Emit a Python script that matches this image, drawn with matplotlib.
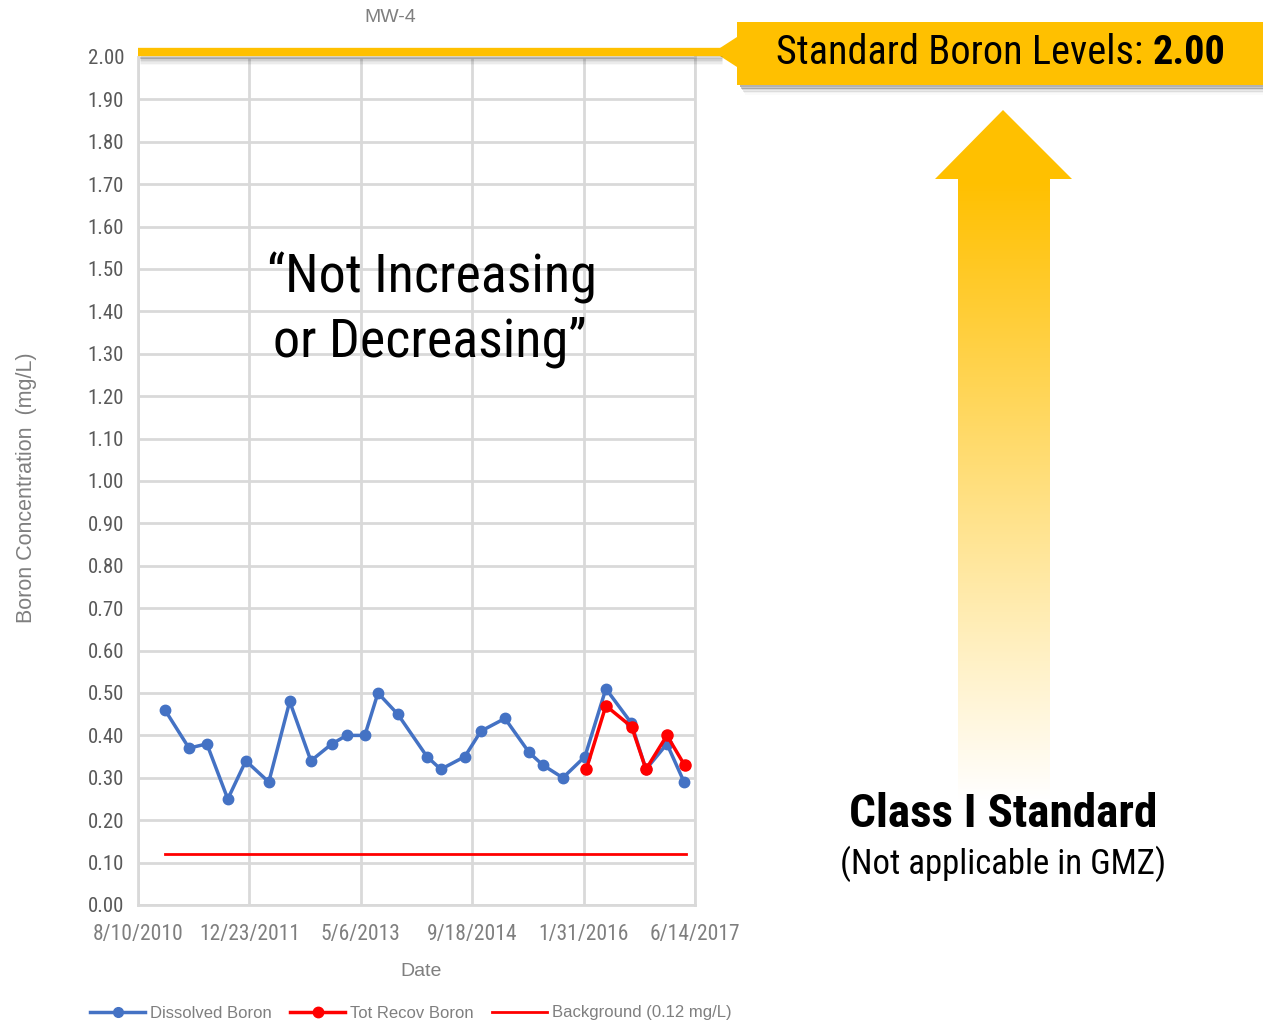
import numpy as np
import pandas as pd
import matplotlib
matplotlib.use("Agg")
import matplotlib.pyplot as plt
from matplotlib import font_manager
from matplotlib.patches import Polygon, Rectangle
from matplotlib.lines import Line2D


def pick_font(names):
    for n in names:
        try:
            font_manager.findfont(n, fallback_to_default=False)
            return n
        except Exception:
            pass
    return "DejaVu Sans"


NARROW = pick_font(["Liberation Sans Narrow", "Roboto Condensed", "Liberation Sans"])
PLAIN = pick_font(["Liberation Sans", "DejaVu Sans"])

# data
dissolved_dates = ["2010-12-09", "2011-03-27", "2011-06-15", "2011-09-17", "2011-12-07",
                   "2012-03-19", "2012-06-21", "2012-09-24", "2012-12-27", "2013-03-04",
                   "2013-05-24", "2013-07-22", "2013-10-19", "2014-02-27", "2014-04-30",
                   "2014-08-16", "2014-10-27", "2015-02-12", "2015-05-31", "2015-08-01",
                   "2015-10-30", "2016-02-06", "2016-05-10", "2016-08-31", "2016-11-06",
                   "2017-02-08", "2017-04-26"]
dissolved_boron = [0.46, 0.37, 0.38, 0.25, 0.34, 0.29, 0.48, 0.34, 0.38, 0.40,
                   0.40, 0.50, 0.45, 0.35, 0.32, 0.35, 0.41, 0.44, 0.36, 0.33,
                   0.30, 0.35, 0.51, 0.43, 0.32, 0.38, 0.29]

total_dates = ["2016-02-12", "2016-05-10", "2016-09-03", "2016-11-06", "2017-02-08", "2017-04-28"]
total_boron = [0.32, 0.47, 0.42, 0.32, 0.40, 0.33]

background_dates = ["2010-12-09", "2017-05-05"]
background_level = [0.12, 0.12]

standard_level = 2.00
x_start = "2010-08-10"
tick_step_days = 500
y_ticks = np.arange(0, 2.01, 0.10)

dissolved_dates = pd.to_datetime(dissolved_dates)
total_dates = pd.to_datetime(total_dates)
background_dates = pd.to_datetime(background_dates)
x_ticks = pd.date_range(x_start, periods=6, freq=f"{tick_step_days}D")

GRAY = "#7f7f7f"
GOLD = "#FFC000"
BLUE = "#4472C4"
RED = "#FF0000"

W, H = 1263, 1024
fig = plt.figure(figsize=(W / 100, H / 100), dpi=100)
fig.patch.set_facecolor("white")

ax = fig.add_axes([138 / W, 1 - 905 / H, (695 - 138) / W, (905 - 57) / H])
ax.plot(background_dates, background_level, color=RED, lw=2, zorder=3)
ax.plot(dissolved_dates, dissolved_boron, color=BLUE, lw=2.5, marker="o", ms=7.5, zorder=4)
ax.plot(total_dates, total_boron, color=RED, lw=2.5, marker="o", ms=8, zorder=5)

ax.set_xlim(x_ticks[0], x_ticks[-1])
ax.set_ylim(0, 2.0)
ax.set_yticks(y_ticks)
ax.set_yticklabels([f"{v:.2f}" for v in y_ticks])
ax.set_xticks(x_ticks)
ax.set_xticklabels([f"{d.month}/{d.day}/{d.year}" for d in x_ticks])
ax.grid(True, color="#d9d9d9", lw=2)
ax.set_axisbelow(True)
for s in ["left", "right", "bottom"]:
    ax.spines[s].set_color("#d9d9d9")
    ax.spines[s].set_linewidth(2)
ax.spines["top"].set_visible(False)
ax.tick_params(axis="y", length=0, colors="#595959", pad=10)
ax.tick_params(axis="x", length=0, colors=GRAY, pad=14)
for lab in ax.get_yticklabels():
    lab.set_fontfamily(NARROW)
    lab.set_fontsize(15)
for lab in ax.get_xticklabels():
    lab.set_fontfamily(NARROW)
    lab.set_fontsize(15.5)

fig.text(390 / W, 1 - 17 / H, "MW-4", ha="center", va="center", fontsize=14,
         family=PLAIN, color=GRAY)
fig.text(421 / W, 1 - 972 / H, "Date", ha="center", va="center", fontsize=14,
         family=PLAIN, color=GRAY)
fig.text(27 / W, 1 - 488 / H, "Boron Concentration  (mg/L)", ha="center", va="center",
         fontsize=15.5, family=PLAIN, color=GRAY, rotation=90)

handles = [Line2D([], [], color=BLUE, lw=2.5, marker="o", ms=7),
           Line2D([], [], color=RED, lw=2.5, marker="o", ms=7.5),
           Line2D([], [], color=RED, lw=2)]
leg = fig.legend(handles, ["Dissolved Boron", "Tot Recov Boron", "Background (0.12 mg/L)"],
                 loc="center", bbox_to_anchor=(411 / W, 1 - 1013 / H), ncol=3, frameon=False,
                 handlelength=3.3, columnspacing=1.1, handletextpad=0.3,
                 prop={"family": PLAIN, "size": 12})
for t in leg.get_texts():
    t.set_color(GRAY)

# overlay in pixel coordinates for the annotations
ov = fig.add_axes([0, 0, 1, 1], zorder=10)
ov.set_xlim(0, W)
ov.set_ylim(H, 0)
ov.axis("off")
ov.patch.set_alpha(0)

# standard line with soft shadow
for i, a in enumerate([0.16, 0.12, 0.08, 0.05, 0.03]):
    ov.plot([140, 722], [57 + i * 1.5, 57 + i * 1.5], color="black", alpha=a, lw=2,
            solid_capstyle="butt")
ov.plot([138, 722], [52, 52], color=GOLD, lw=6, solid_capstyle="butt")
for i, a in enumerate([0.30, 0.22, 0.15, 0.09, 0.05, 0.02]):
    ov.add_patch(Rectangle((740 + i, 85 + i * 1.5), W - 740, 2, color="black", alpha=a, lw=0))
ov.add_patch(Polygon([(720, 48), (737, 37), (737, 67), (720, 56)], closed=True,
                     color=GOLD, lw=0))
ov.add_patch(Rectangle((737, 22), W - 737, 63, color=GOLD, lw=0))
ov.text(1153, 53, "Standard Boron Levels: ", ha="right", va="center",
        fontsize=29, family=NARROW, color="black")
ov.text(1153, 53, "2.00", ha="left", va="center",
        fontsize=29, family=NARROW, weight="bold", color="black")

# gradient arrow
arrow_pts = [(1003, 110), (1072, 179), (1050, 179), (1050, 850), (958, 850),
             (958, 179), (935, 179)]
arrow = Polygon(arrow_pts, closed=True, facecolor="none", edgecolor="none")
ov.add_patch(arrow)
ys = np.linspace(0, 1, 256)
frac = np.clip((ys * (850 - 110) + 110 - 180) / (800 - 180), 0, 1)
gold = np.array([1.0, 0.753, 0.0])
rgb = gold[None, :] * (1 - frac[:, None]) + np.ones(3)[None, :] * frac[:, None]
img = np.repeat(rgb[:, None, :], 2, axis=1)
im = ov.imshow(img, extent=(930, 1080, 850, 110), aspect="auto", zorder=1,
               interpolation="bilinear")
im.set_clip_path(arrow)
ov.set_xlim(0, W)
ov.set_ylim(H, 0)

ov.text(432, 278, "\u201cNot Increasing", ha="center", va="center", fontsize=39,
        family=NARROW, color="black", zorder=5)
ov.text(430, 342, "or Decreasing\u201d", ha="center", va="center", fontsize=39,
        family=NARROW, color="black", zorder=5)
ov.text(1003, 814, "Class I Standard", ha="center", va="center", fontsize=34,
        family=NARROW, weight="bold", color="black", zorder=5)
ov.text(1003, 864, "(Not applicable in GMZ)", ha="center", va="center", fontsize=25,
        family=NARROW, color="black", zorder=5)

fig.savefig("out.png", dpi=100)
